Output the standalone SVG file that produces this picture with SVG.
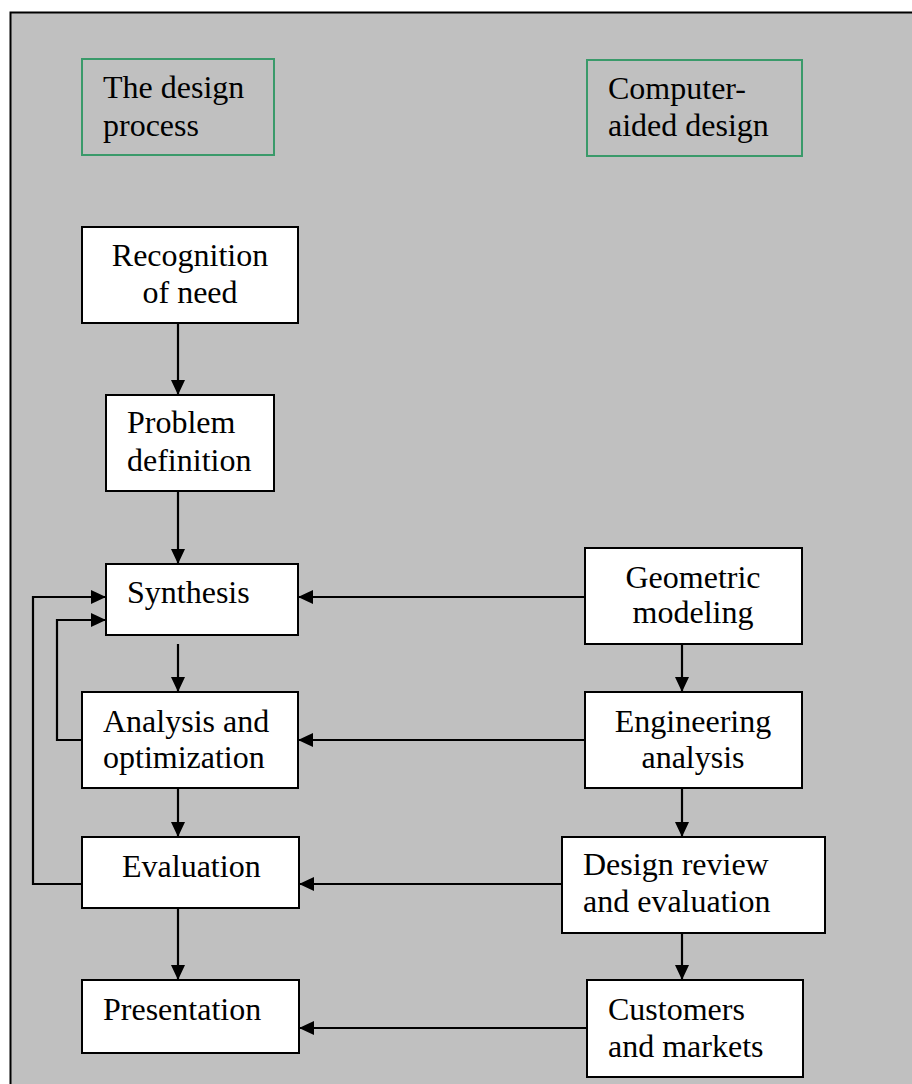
<svg xmlns="http://www.w3.org/2000/svg" width="912" height="1084" viewBox="0 0 912 1084">
  <defs>
    <style>
      .frame { fill: #C0C0C0; stroke: #000; stroke-width: 2; }
      .label { fill: none; stroke: #3A9A6A; stroke-width: 2; }
      .box { fill: #FFFFFF; stroke: #000; stroke-width: 2; }
      text { font-size: 32px; fill: #000; }
      .c { text-anchor: middle; }
      .wire { fill: none; stroke: #000; stroke-width: 2.2; }
      .arrow { marker-end: url(#head); }
    </style>
    <marker id="head" markerUnits="userSpaceOnUse" markerWidth="15" markerHeight="14" refX="15" refY="7" orient="auto">
      <path d="M0,0 L15,7 L0,14 z" fill="#000"/>
    </marker>
  </defs>

  <!-- background panel -->
  <rect class="frame" x="10.5" y="12.5" width="920" height="1090"/>

  <g font-family="'Liberation Serif', 'Times New Roman', 'DejaVu Serif', serif">
    <!-- column headings -->
    <g id="heading-design-process">
      <rect class="label" x="82" y="59" width="192" height="96"/>
      <text x="103" y="98">The design</text>
      <text x="103" y="136">process</text>
    </g>
    <g id="heading-cad">
      <rect class="label" x="587" y="60" width="215" height="96"/>
      <text x="608" y="99">Computer-</text>
      <text x="608" y="136">aided design</text>
    </g>

    <!-- design process column -->
    <g id="recognition">
      <rect class="box" x="82" y="227" width="216" height="96"/>
      <text class="c" x="190" y="266">Recognition</text>
      <text class="c" x="190" y="303">of need</text>
    </g>
    <g id="problem">
      <rect class="box" x="106" y="395" width="168" height="96"/>
      <text x="127" y="433">Problem</text>
      <text x="127" y="471">definition</text>
    </g>
    <g id="synthesis">
      <rect class="box" x="106" y="564" width="192" height="71"/>
      <text x="127" y="603">Synthesis</text>
    </g>
    <g id="analysis">
      <rect class="box" x="82" y="692" width="216" height="96"/>
      <text x="103" y="732">Analysis and</text>
      <text x="103" y="768">optimization</text>
    </g>
    <g id="evaluation">
      <rect class="box" x="82" y="837" width="217" height="71"/>
      <text x="122" y="877">Evaluation</text>
    </g>
    <g id="presentation">
      <rect class="box" x="82" y="980" width="217" height="73"/>
      <text x="103" y="1020">Presentation</text>
    </g>

    <!-- computer-aided design column -->
    <g id="geometric">
      <rect class="box" x="585" y="548" width="217" height="96"/>
      <text class="c" x="693" y="588">Geometric</text>
      <text class="c" x="693" y="623">modeling</text>
    </g>
    <g id="engineering">
      <rect class="box" x="585" y="692" width="217" height="96"/>
      <text class="c" x="693" y="732">Engineering</text>
      <text class="c" x="693" y="768">analysis</text>
    </g>
    <g id="review">
      <rect class="box" x="562" y="837" width="263" height="96"/>
      <text x="583" y="875">Design review</text>
      <text x="583" y="912">and evaluation</text>
    </g>
    <g id="customers">
      <rect class="box" x="587" y="980" width="216" height="97"/>
      <text x="608" y="1020">Customers</text>
      <text x="608" y="1057">and markets</text>
    </g>
  </g>

  <!-- connectors -->
  <g id="connectors">
    <path class="wire arrow" d="M178,323 V395"/>
    <path class="wire arrow" d="M178,491 V564"/>
    <path class="wire arrow" d="M178,644 V692"/>
    <path class="wire arrow" d="M178,788 V837"/>
    <path class="wire arrow" d="M178,908 V980"/>

    <path class="wire arrow" d="M82,740 H57 V620 H106"/>
    <path class="wire arrow" d="M82,884 H33 V597 H106"/>

    <path class="wire arrow" d="M682,644 V692"/>
    <path class="wire arrow" d="M682,788 V837"/>
    <path class="wire arrow" d="M682,933 V980"/>

    <path class="wire arrow" d="M585,597 H298"/>
    <path class="wire arrow" d="M585,740 H298"/>
    <path class="wire arrow" d="M562,884 H299"/>
    <path class="wire arrow" d="M587,1028 H299"/>
  </g>
</svg>
